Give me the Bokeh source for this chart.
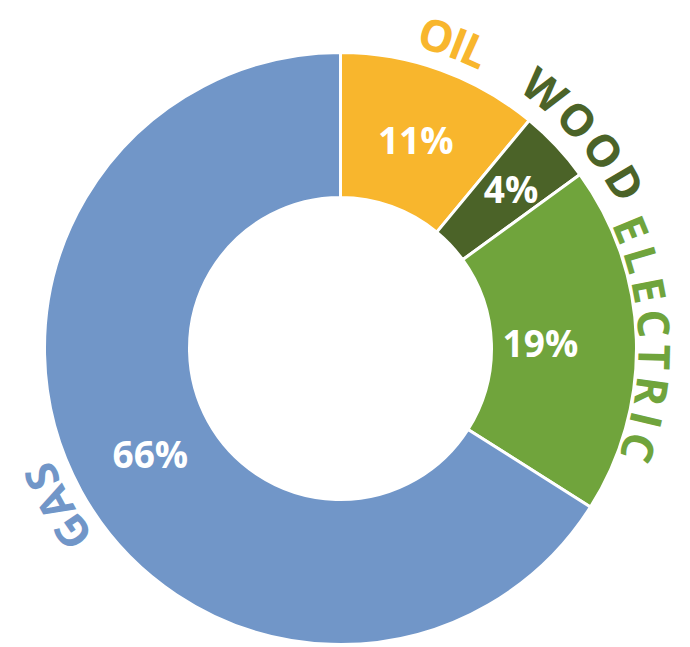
import math
from bokeh.plotting import figure
from bokeh.models import ColumnDataSource, Range1d
from bokeh.core.properties import value
from bokeh.embed import file_html
from bokeh.resources import INLINE

# ---- data (clockwise from 12 o'clock) ----
categories = ["OIL", "WOOD", "ELECTRIC", "GAS"]
shares = [11, 4, 19, 66]
colors = ["#F8B62D", "#4B6328", "#70A43C", "#7196C8"]

# ---- style ----
W, H = 690, 647
CX, CY = 340, H - 348
R_OUT, R_IN = 296, 151
PCT_R = 222
PCT_DR = [0, 12, -22, -5]            # radial nudge of the % labels
NAME_R = [328, 330, 315, 326]        # radius of letter centres
NAME_TRACK = [-1, 6, 8, 3]           # extra letter spacing per category
NAME_SHIFT = [0.4, 1.8, 0, -0.3]     # angular nudge (deg) of each name
NAME_SIZE = 44
CHAR_W = {"O": 0.78, "I": 0.33, "L": 0.537, "W": 0.96, "D": 0.723, "E": 0.547,
          "C": 0.618, "T": 0.562, "R": 0.636, "G": 0.709, "A": 0.677, "S": 0.55}

total = float(sum(shares))
cum = 0.0
starts, ends, mids = [], [], []
for s in shares:
    t1 = cum / total * 2 * math.pi           # clockwise from top
    t2 = (cum + s) / total * 2 * math.pi
    cum += s
    starts.append(math.pi / 2 - t2)
    ends.append(math.pi / 2 - t1)
    mids.append((t1 + t2) / 2)

p = figure(width=W, height=H, output_backend="svg", toolbar_location=None,
           x_range=Range1d(0, W), y_range=Range1d(0, H), min_border=0)
p.axis.visible = False
p.grid.visible = False
p.outline_line_color = None
p.background_fill_color = "white"
p.border_fill_color = "white"

src = ColumnDataSource(dict(x=[CX] * len(shares), y=[CY] * len(shares),
                            start=starts, end=ends, color=colors))
p.annular_wedge(x="x", y="y", inner_radius=R_IN, outer_radius=R_OUT,
                start_angle="start", end_angle="end", direction="anticlock",
                fill_color="color", line_color="white", line_width=3, source=src)

# percentage labels
px = [CX + (PCT_R + d) * math.sin(m) for m, d in zip(mids, PCT_DR)]
py = [CY + (PCT_R + d) * math.cos(m) for m, d in zip(mids, PCT_DR)]
pt = [f"{s}%" for s in shares]
p.text(x=px, y=py, text=pt, text_color="white", text_font=value("Open Sans"),
       text_font_style="bold", text_font_size="37px", text_align="center",
       text_baseline="middle")

# curved category labels
lx, ly, lt, la, lc = [], [], [], [], []
for i, name in enumerate(categories):
    r = NAME_R[i]
    widths = [CHAR_W[c] * NAME_SIZE for c in name]
    length = sum(widths) + NAME_TRACK[i] * (len(name) - 1)
    pos = -length / 2
    centre = mids[i] + math.radians(NAME_SHIFT[i])
    for c, w in zip(name, widths):
        th = centre + (pos + w / 2) / r
        lx.append(CX + r * math.sin(th))
        ly.append(CY + r * math.cos(th))
        lt.append(c)
        la.append(-th)
        lc.append(colors[i])
        pos += w + NAME_TRACK[i]
p.text(x=lx, y=ly, text=lt, angle=la, text_color=lc, text_font=value("Open Sans"),
       text_font_style="bold", text_font_size=f"{NAME_SIZE}px", text_align="center",
       text_baseline="middle")

open("out.html", "w").write(file_html(p, INLINE))
